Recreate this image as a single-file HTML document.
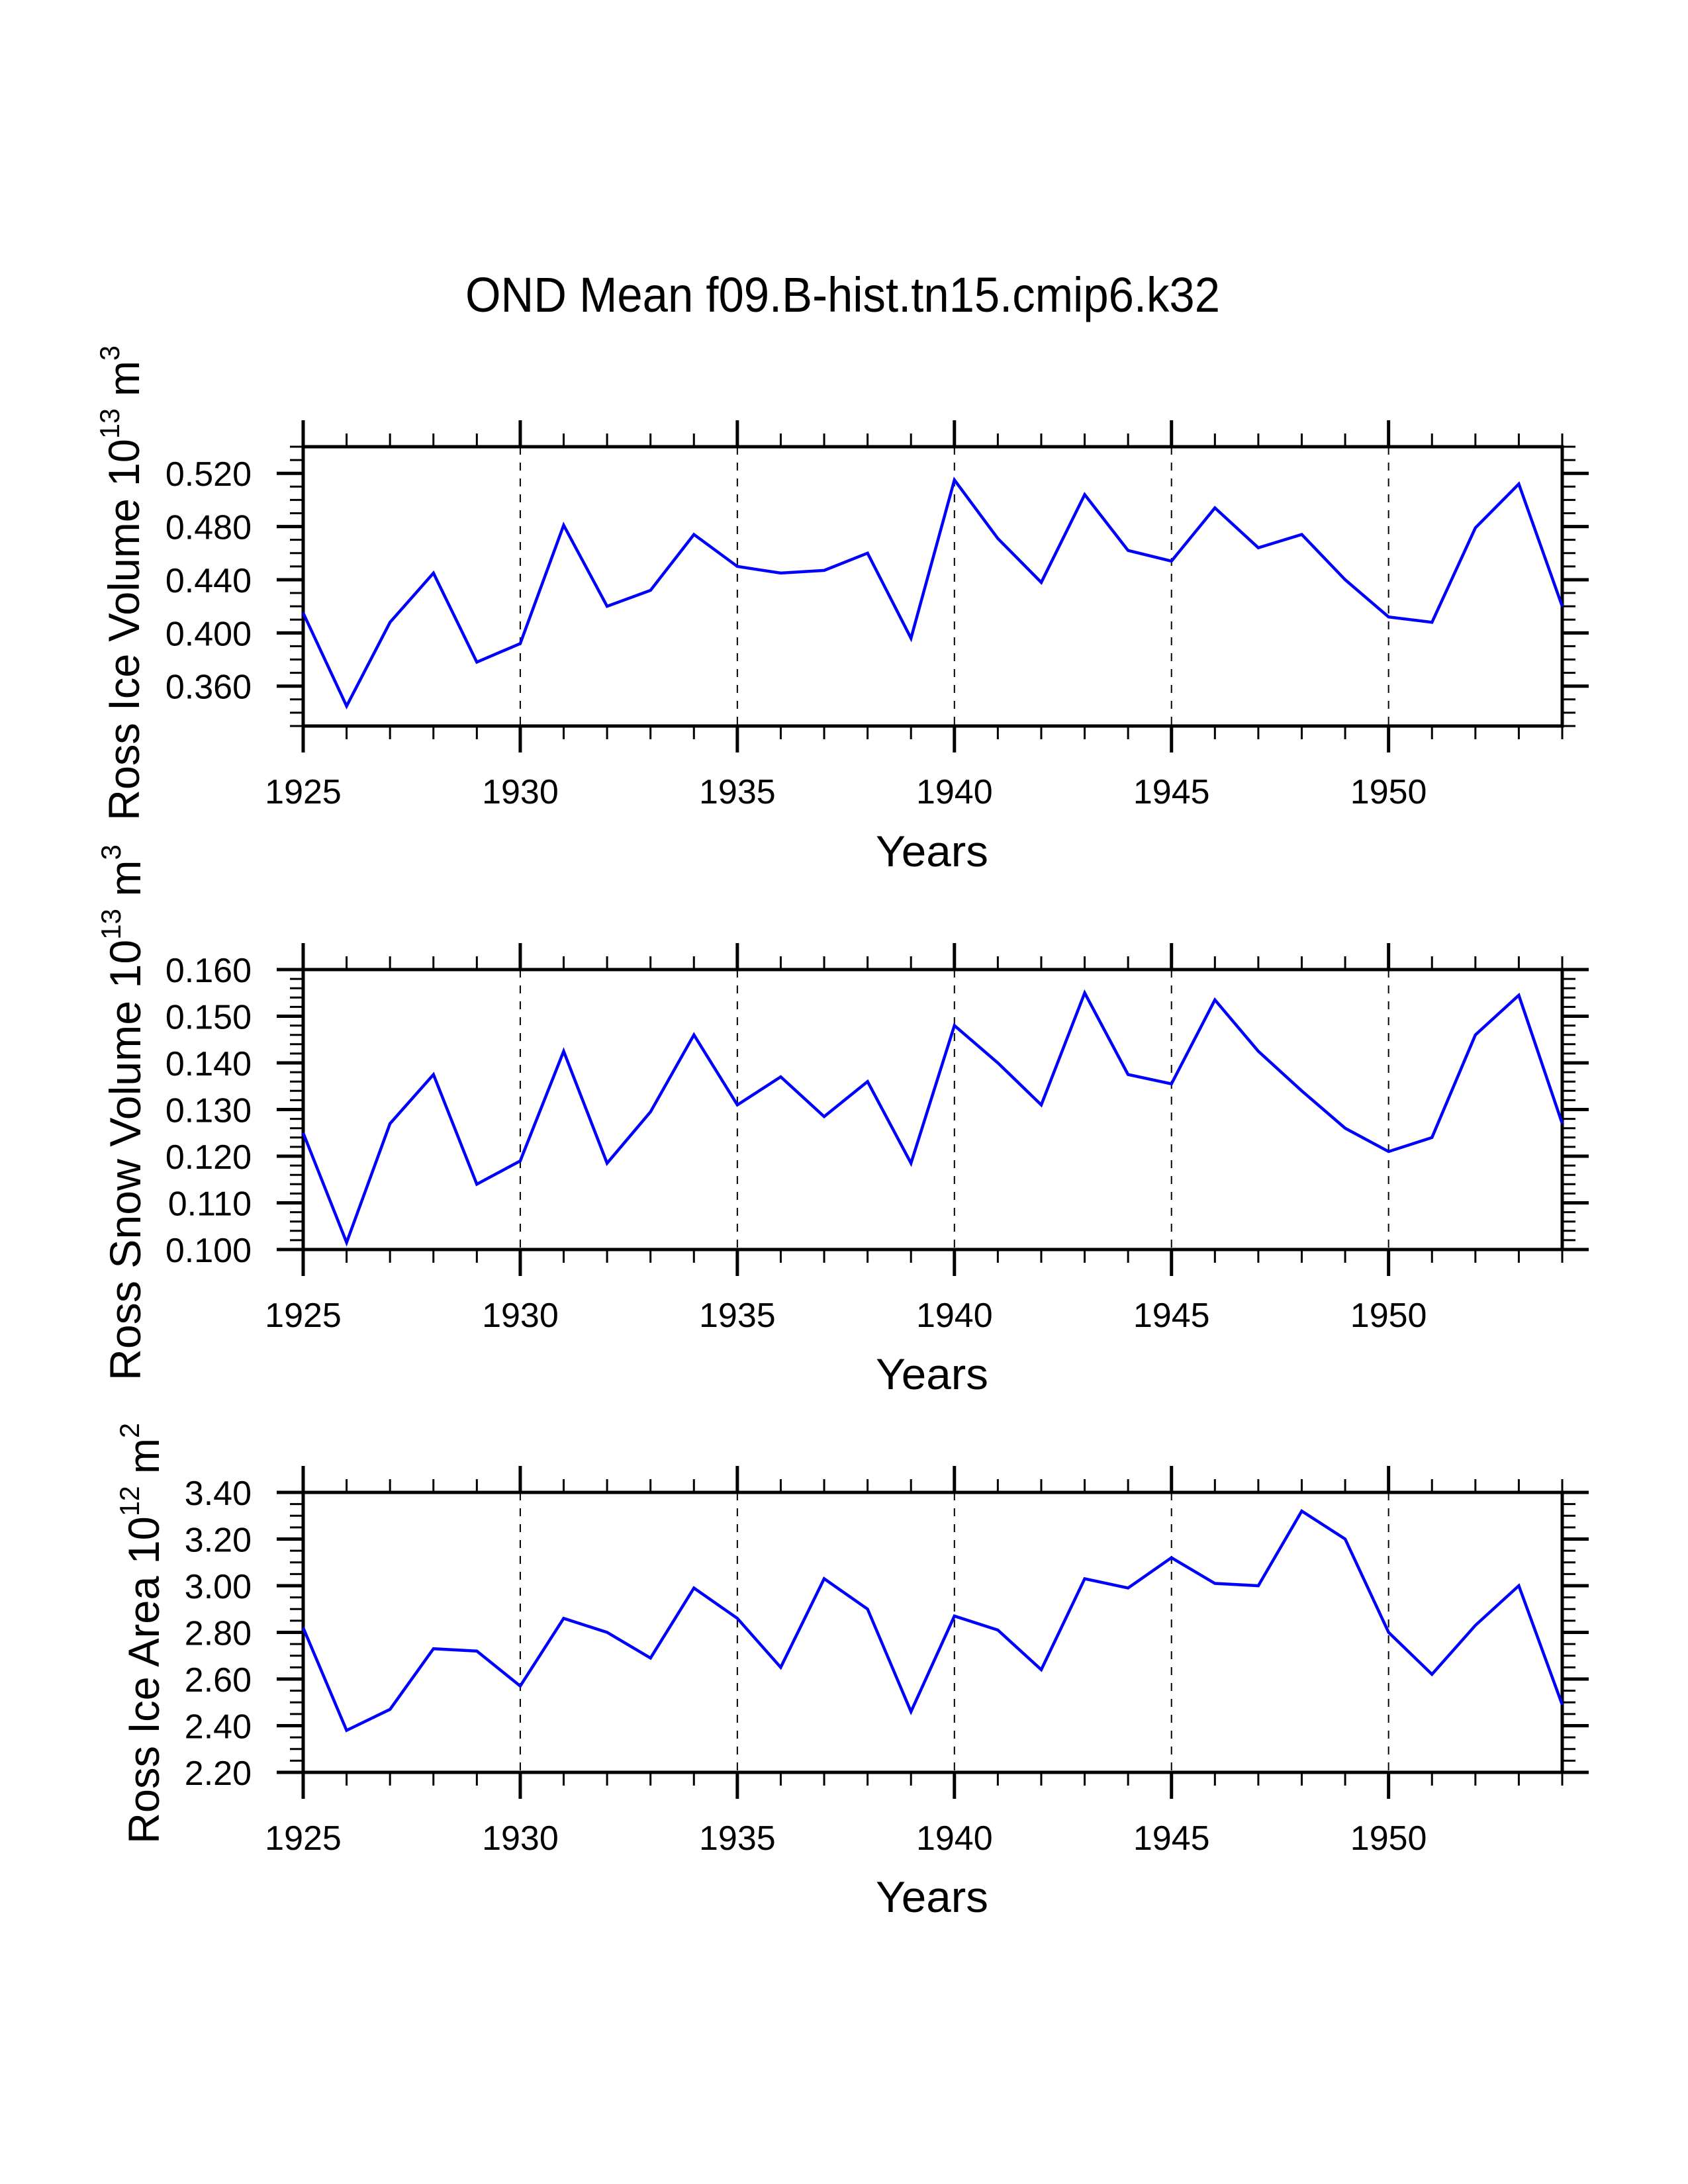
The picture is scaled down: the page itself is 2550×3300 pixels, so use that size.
<!DOCTYPE html>
<html><head><meta charset="utf-8">
<style>
html,body{margin:0;padding:0;background:#fff;}
svg{display:block;}
text{font-family:"Liberation Sans",Arial,sans-serif;fill:#000;}
</style></head>
<body>
<svg id="fig" width="2550" height="3300" viewBox="0 0 2550 3300" xmlns="http://www.w3.org/2000/svg">
<rect width="2550" height="3300" fill="#fff"/>
<text x="703" y="471" font-size="74" textLength="1140" lengthAdjust="spacingAndGlyphs">OND Mean f09.B-hist.tn15.cmip6.k32</text>
</svg>
<script>
// ---- data ----
const years = [1925,1926,1927,1928,1929,1930,1931,1932,1933,1934,1935,1936,1937,1938,1939,1940,1941,1942,1943,1944,1945,1946,1947,1948,1949,1950,1951,1952,1953,1954];
const iceVolume = [0.415,0.345,0.408,0.445,0.378,0.392,0.481,0.420,0.432,0.474,0.450,0.445,0.447,0.460,0.396,0.515,0.471,0.438,0.504,0.462,0.454,0.494,0.464,0.474,0.440,0.412,0.408,0.479,0.512,0.420];
const snowVolume = [0.125,0.1015,0.127,0.1375,0.114,0.119,0.1425,0.1185,0.1295,0.146,0.131,0.137,0.1285,0.136,0.1185,0.148,0.140,0.131,0.155,0.1375,0.1355,0.1535,0.1425,0.134,0.126,0.121,0.124,0.146,0.1545,0.127];
const iceArea = [2.82,2.38,2.47,2.73,2.72,2.57,2.86,2.80,2.69,2.99,2.86,2.65,3.03,2.90,2.46,2.87,2.81,2.64,3.03,2.99,3.12,3.01,3.00,3.32,3.20,2.80,2.62,2.83,3.00,2.49];
const xTickLabels = ["1925","1930","1935","1940","1945","1950"];
const iceVolumeTicks = ["0.360","0.400","0.440","0.480","0.520"];
const snowVolumeTicks = ["0.100","0.110","0.120","0.130","0.140","0.150","0.160"];
const iceAreaTicks = ["2.20","2.40","2.60","2.80","3.00","3.20","3.40"];

const NS = "http://www.w3.org/2000/svg";
const svg = document.getElementById('fig');
const X0 = 458, X1 = 2360, XMIN = 1925, XMAX = 1954;
function xs(v){ return X0 + (v - XMIN) / (XMAX - XMIN) * (X1 - X0); }
function mk(tag, attrs, parent){
  const e = document.createElementNS(NS, tag);
  for (const k in attrs) e.setAttribute(k, attrs[k]);
  (parent || svg).appendChild(e);
  return e;
}

const panels = [
  {id:'ice-volume', top:675, bot:1097, ymin:0.33, ymax:0.54, minor:0.01, ticks:iceVolumeTicks, data:iceVolume,
   title:['Ross Ice Volume 10','13',' m','3'], tx:210, tyBottom:1240, tlen:718},
  {id:'snow-volume', top:1465, bot:1888, ymin:0.100, ymax:0.160, minor:0.002, ticks:snowVolumeTicks, data:snowVolume,
   title:['Ross Snow Volume 10','13',' m','3'], tx:212, tyBottom:2086, tlen:810},
  {id:'ice-area', top:2255, bot:2678, ymin:2.20, ymax:3.40, minor:0.05, ticks:iceAreaTicks, data:iceArea,
   title:['Ross Ice Area 10','12',' m','2'], tx:240, tyBottom:2786, tlen:636}
];

panels.forEach(function(p, pi){
  const g = mk('g', {});
  
  
  function ys(v){ return p.bot - (v - p.ymin) / (p.ymax - p.ymin) * (p.bot - p.top); }

  // dashed grid lines at major x ticks (interior)
  xTickLabels.forEach(function(lab){
    const yr = +lab;
    if (yr === XMIN) return;
    const l = mk('line', {x1:xs(yr), x2:xs(yr), y1:p.top, y2:p.bot, stroke:'#000', 'stroke-width':2, 'stroke-dasharray':'12,12'}, g);
    
    
  });

  // x ticks (top and bottom, outward)
  for (let yr = XMIN; yr <= XMAX; yr++) {
    const major = (yr - XMIN) % 5 === 0;
    const len = major ? 40 : 20, sw = major ? 5 : 3;
    mk('line', {x1:xs(yr), x2:xs(yr), y1:p.top, y2:p.top - len, stroke:'#000', 'stroke-width':sw}, g);
    mk('line', {x1:xs(yr), x2:xs(yr), y1:p.bot, y2:p.bot + len, stroke:'#000', 'stroke-width':sw}, g);
  }
  // y minor ticks
  const nMinor = Math.round((p.ymax - p.ymin) / p.minor);
  for (let i = 0; i <= nMinor; i++) {
    const v = p.ymin + i * p.minor, y = ys(v);
    mk('line', {x1:X0, x2:X0 - 20, y1:y, y2:y, stroke:'#000', 'stroke-width':3}, g);
    mk('line', {x1:X1, x2:X1 + 20, y1:y, y2:y, stroke:'#000', 'stroke-width':3}, g);
  }
  // y major ticks + labels
  p.ticks.forEach(function(lab){
    const y = ys(parseFloat(lab));
    mk('line', {x1:X0, x2:X0 - 40, y1:y, y2:y, stroke:'#000', 'stroke-width':5}, g);
    mk('line', {x1:X1, x2:X1 + 40, y1:y, y2:y, stroke:'#000', 'stroke-width':5}, g);
    const t = mk('text', {x:380, y:y + 19, 'font-size':52, 'text-anchor':'end'}, g);
    t.textContent = lab;
    
    
  });
  // x labels
  xTickLabels.forEach(function(lab){
    const t = mk('text', {x:xs(+lab), y:p.bot + 117, 'font-size':52, 'text-anchor':'middle'}, g);
    t.textContent = lab;
    
    
  });
  // frame
  const fr = mk('rect', {x:X0, y:p.top, width:X1 - X0, height:p.bot - p.top, fill:'none', stroke:'#000', 'stroke-width':5}, g);
  
  

  // series line
  let d = '';
  p.data.forEach(function(v, i){ d += (i ? 'L' : 'M') + xs(years[i]).toFixed(1) + ',' + ys(v).toFixed(1); });
  const ln = mk('path', {d:d, fill:'none', stroke:'#0000ff', 'stroke-width':4.5, 'stroke-linejoin':'miter'}, g);
  
  

  // x-axis title
  const xt = mk('text', {x:1323, y:1309 + pi * 790, 'font-size':66, textLength:170, lengthAdjust:'spacingAndGlyphs'}, g);
  xt.textContent = 'Years';
  
  

  // y-axis title (rotated)
  const yt = mk('text', {x:0, y:0, 'font-size':66, transform:'translate(' + p.tx + ',' + p.tyBottom + ') rotate(-90)', textLength:p.tlen, lengthAdjust:'spacingAndGlyphs'}, g);
  
  
  const parts = p.title;
  const s1 = mk('tspan', {}, yt); s1.textContent = parts[0];
  const s2 = mk('tspan', {'font-size':42, dy:-30}, yt); s2.textContent = parts[1];
  const s3 = mk('tspan', {dy:30}, yt); s3.textContent = parts[2];
  const s4 = mk('tspan', {'font-size':42, dy:-30}, yt); s4.textContent = parts[3];
});
</script>
</body></html>
